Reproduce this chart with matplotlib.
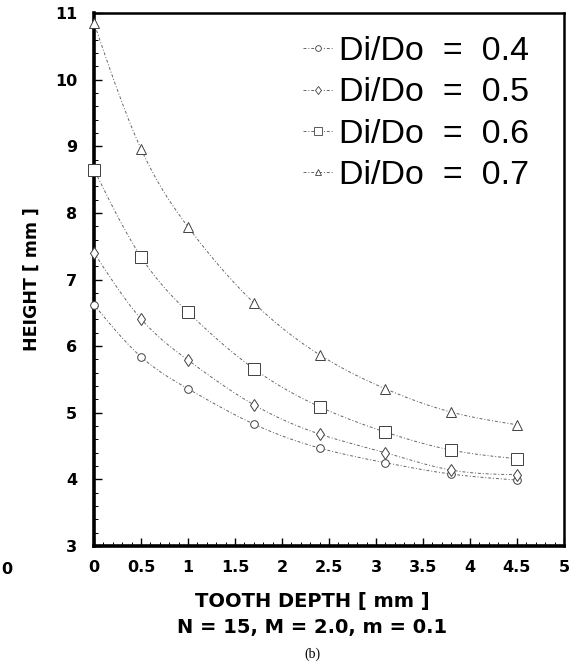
import numpy as np
import matplotlib
matplotlib.use('Agg')
import matplotlib.pyplot as plt
from matplotlib.ticker import MultipleLocator

plt.rcParams['font.family'] = ['DejaVu Sans']

# 数据：齿深 vs 高度
depth = [0, 0.5, 1, 1.7, 2.4, 3.1, 3.8, 4.5]
h04 = [6.62, 5.84, 5.36, 4.83, 4.47, 4.25, 4.08, 3.99]
h05 = [7.40, 6.41, 5.79, 5.12, 4.68, 4.40, 4.14, 4.07]
h06 = [8.65, 7.34, 6.51, 5.66, 5.09, 4.71, 4.44, 4.31]
h07 = [10.85, 8.96, 7.79, 6.65, 5.87, 5.36, 5.01, 4.82]
labels = ['Di/Do  =  0.4', 'Di/Do  =  0.5', 'Di/Do  =  0.6', 'Di/Do  =  0.7']
xticks = [0, 0.5, 1, 1.5, 2, 2.5, 3, 3.5, 4, 4.5, 5]
xticklabels = ['0', '0.5', '1', '1.5', '2', '2.5', '3', '3.5', '4', '4.5', '5']


def spline(x, y, num=200):
    """natural cubic spline, only used to draw the smooth curve through the points"""
    x = np.asarray(x, float); y = np.asarray(y, float)
    n = len(x)
    h = np.diff(x)
    A = np.zeros((n, n)); b = np.zeros(n)
    A[0, 0] = 1; A[-1, -1] = 1
    for i in range(1, n - 1):
        A[i, i - 1] = h[i - 1]
        A[i, i] = 2 * (h[i - 1] + h[i])
        A[i, i + 1] = h[i]
        b[i] = 3 * ((y[i + 1] - y[i]) / h[i] - (y[i] - y[i - 1]) / h[i - 1])
    c = np.linalg.solve(A, b)
    xs = np.linspace(x[0], x[-1], num)
    ys = np.zeros_like(xs)
    for k, xv in enumerate(xs):
        i = min(np.searchsorted(x, xv, side='right') - 1, n - 2)
        dx = xv - x[i]
        bi = (y[i + 1] - y[i]) / h[i] - h[i] * (2 * c[i] + c[i + 1]) / 3
        di = (c[i + 1] - c[i]) / (3 * h[i])
        ys[k] = y[i] + bi * dx + c[i] * dx ** 2 + di * dx ** 3
    return xs, ys


fig = plt.figure(figsize=(5.81, 6.64), dpi=100)
ax = fig.add_axes([0.1618, 0.1777, 0.8089, 0.8027])

series = [h04, h05, h06, h07]
mks = ['o', 'd', 's', '^']
msz = [5.5, 6, 8, 6.5]
ls = (0, (3, 2, 1, 2))
for y, m, s, lab in zip(series, mks, msz, labels):
    xs, ys = spline(depth, y)
    ax.plot(xs, ys, color='0.4', lw=0.7, ls=ls)
    ax.plot(depth, y, ls='none', marker=m, ms=s, mfc='white', mec='0.25',
            mew=0.7, clip_on=False, zorder=3)
    # legend handle
    ax.plot([], [], color='0.4', lw=0.7, ls=ls, marker=m, ms=s * 0.75,
            mfc='white', mec='0.25', mew=0.6, label=lab)

ax.set_xlim(0, 5)
ax.set_ylim(3, 11)
ax.set_xticks(xticks)
ax.set_xticklabels(xticklabels)
ax.xaxis.set_minor_locator(MultipleLocator(0.1))
ax.yaxis.set_major_locator(MultipleLocator(1))
ax.yaxis.set_minor_locator(MultipleLocator(0.2))
ax.tick_params(which='major', direction='in', length=6, width=1.0,
               labelsize=11.5, pad=10)
ax.tick_params(which='minor', direction='in', length=3, width=0.7)
ax.tick_params(axis='y', pad=12)
for t in ax.get_xticklabels() + ax.get_yticklabels():
    t.set_fontweight('bold')

for side in ['left', 'bottom']:
    ax.spines[side].set_linewidth(2.6)
for side in ['top', 'right']:
    ax.spines[side].set_linewidth(1.8)

ax.set_ylabel('HEIGHT [ mm ]', fontsize=12.5, fontweight='bold', labelpad=10)
fig.text(312 / 581, 1 - 602 / 664, 'TOOTH DEPTH [ mm ]', ha='center', va='center',
         fontsize=14, fontweight='bold')
fig.text(312 / 581, 1 - 628 / 664, 'N = 15, M = 2.0, m = 0.1', ha='center',
         va='center', fontsize=14, fontweight='bold')
fig.text(312 / 581, 1 - 654 / 664, '(b)', ha='center', va='center', fontsize=10,
         family=['Liberation Serif', 'DejaVu Serif'])
# 左侧邻图残留的刻度数字
fig.text(12 / 581, 1 - 570 / 664, '0', ha='right', va='center', fontsize=11.5,
         fontweight='bold')

leg = ax.legend(loc='upper right', bbox_to_anchor=(0.954, 0.982), frameon=False,
                prop={'family': ['Liberation Sans', 'DejaVu Sans'], 'size': 24.5},
                handlelength=0.9, handletextpad=0.15, labelspacing=0.3,
                borderaxespad=0.0)

fig.savefig('out.png', dpi=100)
